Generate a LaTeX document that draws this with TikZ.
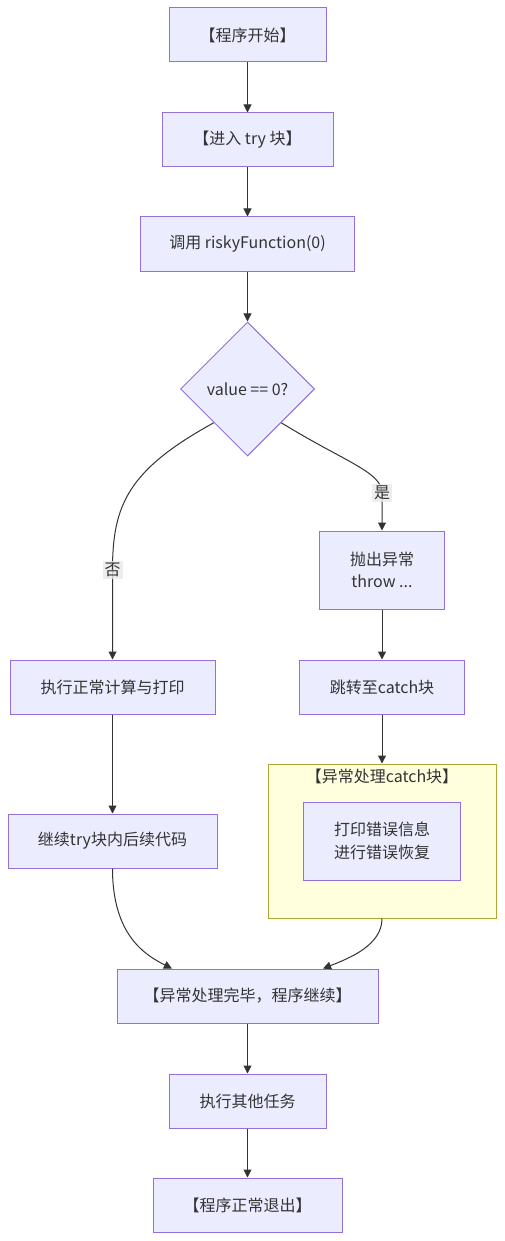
\documentclass[tikz,border=0pt]{standalone}
\usepackage{fontspec}
\setmainfont{Noto Sans CJK SC}
\usetikzlibrary{arrows.meta, shapes.geometric, positioning}
\definecolor{boxf}{HTML}{ECECFF}
\definecolor{boxl}{HTML}{9370DB}
\definecolor{clf}{HTML}{FFFFDE}
\definecolor{cll}{HTML}{AAAA33}
\definecolor{txt}{HTML}{333333}
\definecolor{lblf}{HTML}{E8E8E8}

\begin{document}
\begin{tikzpicture}[x=0.75pt, y=-0.75pt,
            arr/.style={draw=txt, line width=0.75pt, -{Triangle[length=6pt, width=6pt]}}]
        \tikzstyle{box}=[rectangle, draw=boxl, fill=boxf, text=txt, line width=0.75pt, minimum height=40.5pt, align=center, font=\fontsize{12pt}{17pt}\selectfont]
        \tikzstyle{dia}=[diamond, shape aspect=1, draw=boxl, fill=boxf, text=txt, line width=0.75pt, minimum width=100.5pt, minimum height=100.5pt, inner sep=0pt, font=\fontsize{12pt}{17pt}\selectfont]
        \tikzstyle{lbl}=[fill=lblf, fill opacity=0.8, text opacity=1, text=txt, inner sep=1.5pt, font=\fontsize{12pt}{14pt}\selectfont]
        \useasboundingbox (0,0) rectangle (504,1241);
        \node[box, minimum width=117.75pt] (start) at (247.5,35) {【程序开始】};
        \node[box, minimum width=128.25pt] (try) at (247.5,140) {【进入 try 块】};
        \node[box, minimum width=160.5pt] (call) at (247.5,244) {调用 riskyFunction(0)};
        \node[dia] (check) at (247.5,389) {value == 0?};
        \node[box, minimum width=93.75pt, minimum height=58.5pt] (throw) at (382,570) {抛出异常\\throw ...};
        \node[box, minimum width=153.75pt] (calc) at (112.5,687) {执行正常计算与打印};
        \node[box, minimum width=123.75pt] (jump) at (382,687) {跳转至catch块};
        \node[rectangle, draw=cll, fill=clf, line width=0.75pt, minimum width=171pt, minimum height=115.5pt] (catchblk) at (382,841) {};
        \node[text=txt, font=\fontsize{12pt}{14pt}\selectfont] (catchttl) at (382,776) {【异常处理catch块】};
        \node[box, minimum width=117.75pt, minimum height=58.5pt] (handle) at (382,841) {打印错误信息\\进行错误恢复};
        \node[box, minimum width=156.75pt] (cont) at (112.5,841) {继续try块内后续代码};
        \node[box, minimum width=195.75pt] (done) at (247.5,996) {【异常处理完毕，程序继续】};
        \node[box, minimum width=117.75pt] (other) at (247.5,1101) {执行其他任务};
        \node[box, minimum width=141.75pt] (quit) at (247.5,1205) {【程序正常退出】};
        \draw[arr] (start) -- (try);
        \draw[arr] (try) -- (call);
        \draw[arr] (call) -- (check);
        \draw[arr] (check.south west) .. controls (128,470) and (112.5,505) .. (112.5,570) node[lbl] {否} -- (calc);
        \draw[arr] (check.south east) .. controls (345,462) and (382,472) .. (382,493) node[lbl] {是} -- (throw);
        \draw[arr] (calc) -- (cont);
        \draw[arr] (throw) -- (jump);
        \draw[arr] (jump) -- (catchblk);
        \draw[arr] (cont.south) .. controls (112.5,935) and (145,955) .. (done.160);
        \draw[arr] (catchblk.south) .. controls (382,945) and (350,958) .. (done.20);
        \draw[arr] (done) -- (other);
        \draw[arr] (other) -- (quit);
    \end{tikzpicture}
\end{document}
